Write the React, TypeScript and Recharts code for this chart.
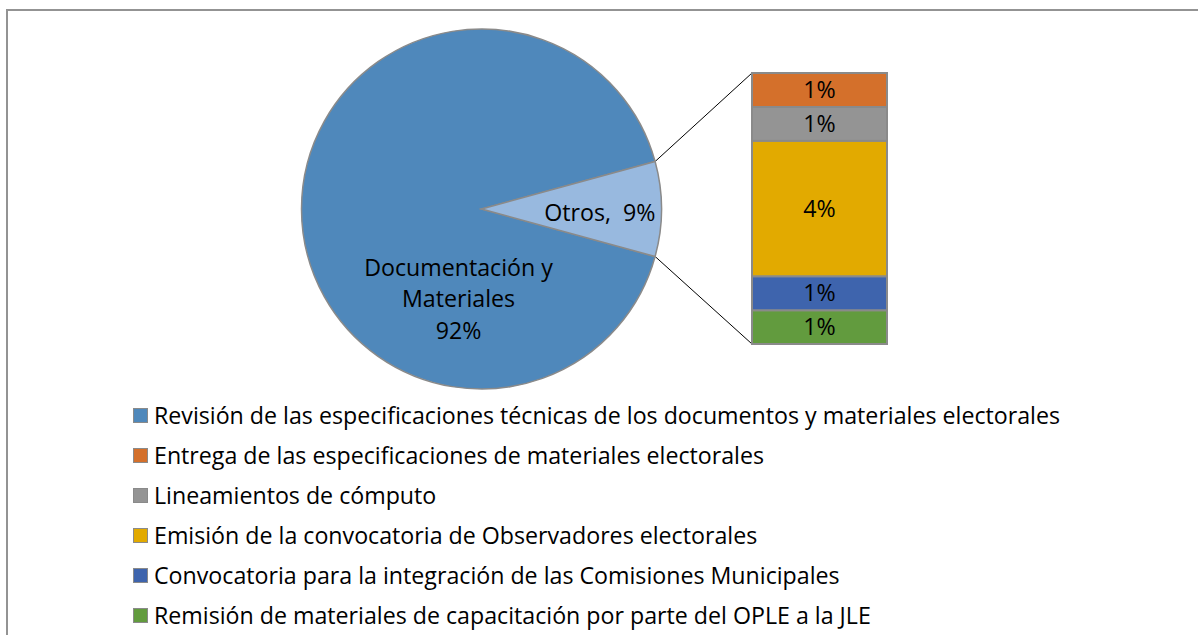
import React from "react";
import { Bar, BarChart, Cell, LabelList, Pie, PieChart, XAxis, YAxis } from "recharts";

// main pie: big slice + "Otros" (which is broken out into the bar)
const pieNames = ["Documentación y Materiales", "Otros"];
const pieValues = [91.5, 8.5];
const pieColors = ["#4F88BB", "#98B9DF"];

// breakdown of "Otros" (legend order, top of bar first)
const detailKeys = ["entrega", "lineamientos", "emision", "convocatoria", "remision"];
const detailValues = [1.0625, 1.0625, 4.25, 1.0625, 1.0625];
const detailColors = ["#D4702B", "#949494", "#E2AA00", "#3E64AD", "#629B3E"];

const legendLabels = [
  "Revisión de las especificaciones técnicas de los documentos y materiales electorales",
  "Entrega de las especificaciones de materiales electorales",
  "Lineamientos de cómputo",
  "Emisión de la convocatoria de Observadores electorales",
  "Convocatoria para la integración de las Comisiones Municipales",
  "Remisión de materiales de capacitación por parte del OPLE a la JLE",
];
const legendColors = ["#4F88BB", ...detailColors];

const FONT = "'Open Sans', Lato, sans-serif";
const FS = 23.2;
const PIE_CX = 481.5;
const PIE_CY = 209;
const PIE_R = 180;
const otrosShare = pieValues[1] / (pieValues[0] + pieValues[1]);
const HALF = (otrosShare * 360) / 2;

const BAR_LEFT = 752;
const BAR_TOP = 73;
const BAR_W = 135;
const BAR_H = 271;

const pieData = pieNames.map((name, i) => ({ name, value: pieValues[i] }));
const barRow: Record<string, number | string> = { name: "Otros" };
detailKeys.forEach((k, i) => (barRow[k] = detailValues[i]));
const barTotal = detailValues.reduce((a, b) => a + b, 0);

function PieLabel(props: any) {
  const { cx, cy, index, value } = props;
  const pct = `${Math.round(value)}%`;
  if (index === 0) {
    return (
      <text x={cx - 23} y={cy + 67} textAnchor="middle" fontFamily={FONT} fontSize={FS} fill="#000">
        <tspan x={cx - 23} dy={0}>Documentación y</tspan>
        <tspan x={cx - 23} dy={31}>Materiales</tspan>
        <tspan x={cx - 23} dy={32}>{pct}</tspan>
      </text>
    );
  }
  return (
    <text x={cx + PIE_R - 6} y={cy + 12} textAnchor="end" fontFamily={FONT} fontSize={FS} fill="#000">
      {`Otros,\u00A0 ${pct}`}
    </text>
  );
}

export default function App() {
  const rad = (HALF * Math.PI) / 180;
  const topPt = { x: PIE_CX + PIE_R * Math.cos(rad), y: PIE_CY - PIE_R * Math.sin(rad) };
  const botPt = { x: PIE_CX + PIE_R * Math.cos(rad), y: PIE_CY + PIE_R * Math.sin(rad) };

  return (
    <div style={{ position: "absolute", left: 0, top: 0, width: 1198, height: 635, overflow: "hidden", background: "#fff", fontFamily: FONT }}>
      <div style={{ position: "absolute", left: 6, top: 9, width: 1220, height: 700, border: "2px solid #939393", boxSizing: "border-box" }} />

      <svg width={1198} height={635} style={{ position: "absolute", left: 0, top: 0 }}>
        <line x1={topPt.x} y1={topPt.y} x2={BAR_LEFT} y2={BAR_TOP} stroke="#000" strokeWidth={1} />
        <line x1={botPt.x} y1={botPt.y} x2={BAR_LEFT} y2={BAR_TOP + BAR_H} stroke="#000" strokeWidth={1} />
      </svg>

      <div style={{ position: "absolute", left: 0, top: 0 }}>
        <PieChart width={1198} height={400} margin={{ top: 0, right: 0, bottom: 0, left: 0 }}>
          <Pie
            data={pieData}
            dataKey="value"
            cx={PIE_CX}
            cy={PIE_CY}
            outerRadius={PIE_R}
            startAngle={HALF}
            endAngle={HALF + 360}
            stroke="#8a8a8a"
            strokeWidth={1.5}
            label={PieLabel}
            labelLine={false}
            isAnimationActive={false}
          >
            {pieData.map((d, i) => (
              <Cell key={d.name} fill={pieColors[i]} />
            ))}
          </Pie>
        </PieChart>
      </div>

      <div style={{ position: "absolute", left: BAR_LEFT - 1, top: BAR_TOP - 1 }}>
        <BarChart width={BAR_W + 2} height={BAR_H + 2} data={[barRow]} margin={{ top: 1, right: 1, bottom: 1, left: 1 }} barCategoryGap={0}>
          <XAxis dataKey="name" hide />
          <YAxis hide domain={[0, barTotal]} />
          {[...detailKeys].reverse().map((k) => {
            const i = detailKeys.indexOf(k);
            return (
              <Bar key={k} dataKey={k} stackId="a" fill={detailColors[i]} stroke="#8a8a8a" strokeWidth={2} isAnimationActive={false}>
                <LabelList
                  dataKey={k}
                  position="center"
                  formatter={(v: any) => `${Math.round(Number(v))}%`}
                  style={{ fontFamily: FONT, fontSize: FS, fill: "#000" }}
                />
              </Bar>
            );
          })}
        </BarChart>
      </div>

      <div style={{ position: "absolute", left: 133, top: 395 }}>
        {legendLabels.map((label, i) => (
          <div key={label} style={{ display: "flex", alignItems: "center", height: 40, fontSize: FS, color: "#000", whiteSpace: "nowrap" }}>
            <span style={{ display: "inline-block", width: 13, height: 13, background: legendColors[i], border: "1px solid #8a8a8a", marginRight: 6 }} />
            {label}
          </div>
        ))}
      </div>
    </div>
  );
}
